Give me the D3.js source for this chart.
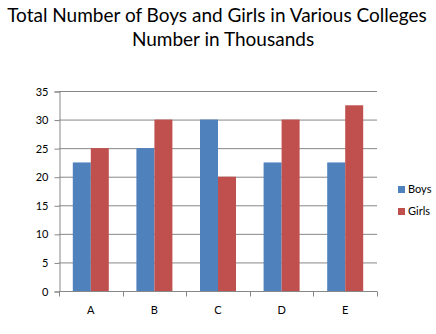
<!DOCTYPE html>
<html>
<head>
<meta charset="utf-8">
<script src="https://cdn.jsdelivr.net/npm/d3@7"></script>
<style>
  body { margin: 0; background: #fff; }
  svg { font-family: Lato, "Open Sans", sans-serif; }
</style>
</head>
<body>
<div id="chart"></div>
<script>
// chart data
const colleges = ["A", "B", "C", "D", "E"];
const boys = [22.5, 25, 30, 22.5, 22.5];
const girls = [25, 30, 20, 30, 32.5];
const seriesNames = ["Boys", "Girls"];
const yTicks = [0, 5, 10, 15, 20, 25, 30, 35];
const titleLines = ["Total Number of Boys and Girls in Various Colleges", "Number in Thousands"];

const width = 436, height = 334;
const plotL = 59, plotR = 377, plotT = 91, plotB = 291;
const colors = ["#4F81BD", "#C0504D"];
const titleX = [217, 223];

const svg = d3.select("#chart").append("svg")
    .attr("width", width)
    .attr("height", height);

// title
svg.selectAll("text.title")
    .data(titleLines)
    .enter().append("text")
    .attr("class", "title")
    .attr("x", (d, i) => titleX[i])
    .attr("y", (d, i) => 22 + i * 24)
    .attr("text-anchor", "middle")
    .attr("font-size", 19)
    .attr("fill", "#000")
    .text(d => d);

const x = d3.scaleBand().domain(colleges).range([plotL, plotR]);
const y = d3.scaleLinear().domain([0, 35]).range([plotB, plotT]);

// gridlines
svg.append("g")
    .selectAll("line")
    .data(yTicks.slice(1))
    .enter().append("line")
    .attr("x1", plotL).attr("x2", plotR)
    .attr("y1", d => y(d) + 0.5).attr("y2", d => y(d) + 0.5)
    .attr("stroke", "#878787");

// y axis
const yAxis = svg.append("g")
    .attr("transform", `translate(${plotL + 0.5},0.5)`)
    .call(d3.axisLeft(y).tickValues(yTicks).tickSize(5).tickPadding(6));
yAxis.selectAll("path, line").attr("stroke", "#878787");
yAxis.selectAll("text").attr("font-size", 11).attr("fill", "#000")
    .attr("font-family", "Lato, sans-serif");

// bars
const groupW = 36;
const sx = d3.scaleBand().domain(seriesNames).range([0, groupW]);
[boys, girls].forEach((vals, si) => {
  svg.append("g")
    .selectAll("rect")
    .data(vals)
    .enter().append("rect")
    .attr("x", (d, i) => x(colleges[i]) + (x.bandwidth() - groupW) / 2 + sx(seriesNames[si]))
    .attr("y", d => y(d))
    .attr("width", sx.bandwidth())
    .attr("height", d => y(0) - y(d))
    .attr("fill", colors[si]);
});

// x axis with ticks between categories
const xg = svg.append("g").attr("transform", `translate(0,${plotB + 0.5})`);
xg.append("line").attr("x1", plotL).attr("x2", plotR).attr("stroke", "#878787");
xg.selectAll("line.tk")
    .data(d3.range(colleges.length + 1))
    .enter().append("line")
    .attr("class", "tk")
    .attr("x1", i => Math.round(plotL + i * x.step()) + 0.5)
    .attr("x2", i => Math.round(plotL + i * x.step()) + 0.5)
    .attr("y1", 0).attr("y2", 5)
    .attr("stroke", "#878787");
xg.selectAll("text")
    .data(colleges)
    .enter().append("text")
    .attr("x", d => x(d) + x.bandwidth() / 2)
    .attr("y", 22)
    .attr("text-anchor", "middle")
    .attr("font-size", 11)
    .text(d => d);

// legend
const lg = svg.append("g").attr("transform", "translate(398,186)");
seriesNames.forEach((name, i) => {
  lg.append("rect")
    .attr("x", 0).attr("y", i * 22)
    .attr("width", 7).attr("height", 7)
    .attr("fill", colors[i]);
  lg.append("text")
    .attr("x", 10).attr("y", i * 22 + 7)
    .attr("font-size", 11)
    .text(name);
});
</script>
</body>
</html>
